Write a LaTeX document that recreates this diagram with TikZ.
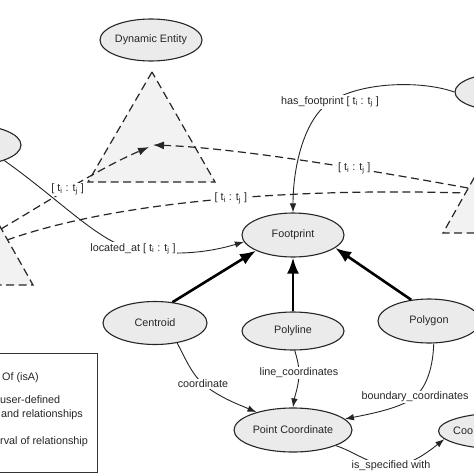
\documentclass[tikz,border=0pt]{standalone}
\usepackage{fontspec}
\setmainfont{Liberation Sans}
\usetikzlibrary{arrows.meta,shapes.geometric}
\newcommand{\tij}{[ t\textsubscript{i} : t\textsubscript{j} ]}
\begin{document}
\begin{tikzpicture}[x=1pt,y=-1pt,
  ent/.style={ellipse, draw=black!85, line width=1.1pt, fill=black!8, inner sep=0pt,
    font=\fontsize{10.8}{13}\selectfont, text=black!85},
  lbl/.style={fill=white, inner sep=1pt, font=\fontsize{10.8}{13}\selectfont, text=black!85},
  legtxt/.style={anchor=west, inner sep=0pt, font=\fontsize{10.8}{13}\selectfont, text=black!85},
  rel/.style={draw=black!85, line width=0.9pt, -{Latex[length=9pt,width=6.5pt]}},
  isa/.style={draw=black, line width=2.6pt, -{Latex[length=16pt,width=12pt]}},
  tdash/.style={draw=black!85, line width=1.2pt, dash pattern=on 8pt off 4.5pt},
  tdarrow/.style={tdash, -{Latex[length=11pt,width=8pt]}},
  tri/.style={tdash, fill=black!5},
]
\useasboundingbox (0,0) rectangle (474,474);
\clip (0,0) rectangle (474,474);
\fill[white] (0,0) rectangle (474,474);

% triangles (time intervals)
\draw[tri] (152,72) -- (88,182) -- (215,182) -- cycle;
\draw[tri] (-29,175) -- (-92,285) -- (33,285) -- cycle;
\draw[tri] (505,123) -- (443,233) -- (568,233) -- cycle;

% entities
\node[ent, minimum width=102pt, minimum height=42pt] (DE) at (151,40) {Dynamic Entity};
\node[ent, minimum width=100pt, minimum height=40pt] (LE) at (-29,145) {};
\node[ent, minimum width=100pt, minimum height=38pt] (RE) at (505,92) {};
\node[ent, minimum width=102pt, minimum height=44pt] (FP) at (293,235) {Footprint};
\node[ent, minimum width=104pt, minimum height=43pt] (CE) at (155,323) {Centroid};
\node[ent, minimum width=102pt, minimum height=38pt] (PL) at (293,331) {Polyline};
\node[ent, minimum width=102pt, minimum height=44pt] (PG) at (429,321) {Polygon};
\node[ent, minimum width=118pt, minimum height=44pt] (PC) at (293,430) {Point Coordinate};
\node[ent, minimum width=127pt, minimum height=36pt] (CS) at (502,431) {};
\node[legtxt] (CSt) at (453,431) {Coo};

% dashed interval connectors
\coordinate (l1) at (1,229);
\coordinate (l2) at (7,240);
\coordinate (r2) at (465,193);
\coordinate (r3) at (468,188);
\coordinate (m1) at (149,147);
\coordinate (m3) at (153,145);
\draw[tdarrow] (l1) .. controls (50,200) and (100,168) .. (m1) node[lbl,pos=0.45] (t1) {\tij};
\draw[tdash] (l2) .. controls (120,200) and (300,188) .. (r2) node[lbl,pos=0.53] (t2) {\tij};
\draw[tdarrow] (r3) .. controls (380,172) and (240,148) .. (m3) node[lbl,pos=0.37] (t3) {\tij};

% relations
\draw[rel] (LE.335) .. controls (60,200) and (100,243) .. (133,249)
  node[lbl] (lla) {located\_at \tij}
  .. controls (175,257) and (210,252) .. (FP.188);
\draw[rel] (RE.west) .. controls (420,80) and (360,82) .. (330,102)
  node[lbl] (lhf) {has\_footprint \tij}
  .. controls (305,118) and (293,165) .. (FP.north);

\draw[isa] (CE.50) -- (FP.203);
\draw[isa] (PL.north) -- (FP.south);
\draw[isa] (PG.130) -- (FP.343);

\draw[rel] (CE.318) .. controls (186,360) and (192,374) .. (203,384)
  node[lbl] (lco) {coordinate}
  .. controls (220,398) and (240,405) .. (PC.154);
\draw[rel] (PL.275) .. controls (297,358) and (299,365) .. (299,373)
  node[lbl] (llc) {line\_coordinates}
  .. controls (299,385) and (295,395) .. (PC.north);
\draw[rel] (PG.282) .. controls (433,365) and (428,385) .. (415,397)
  node[lbl] (lbc) {boundary\_coordinates}
  .. controls (400,408) and (375,413) .. (PC.12);
\draw[rel] (PC.340) .. controls (355,452) and (370,465) .. (391,466)
  node[lbl] (lis) {is\_specified with}
  .. controls (410,466) and (428,452) .. (CS.188);

% legend
\draw[black!80, line width=0.9pt] (-60,353) rectangle (97,472);
\node[legtxt] (g1) at (2,378) {Of (isA)};
\node[legtxt] (g2) at (0,400) {user-defined};
\node[legtxt] (g3) at (1,415) {and relationships};
\node[legtxt] (g4) at (0,442) {rval of relationship};
\end{tikzpicture}
\end{document}
